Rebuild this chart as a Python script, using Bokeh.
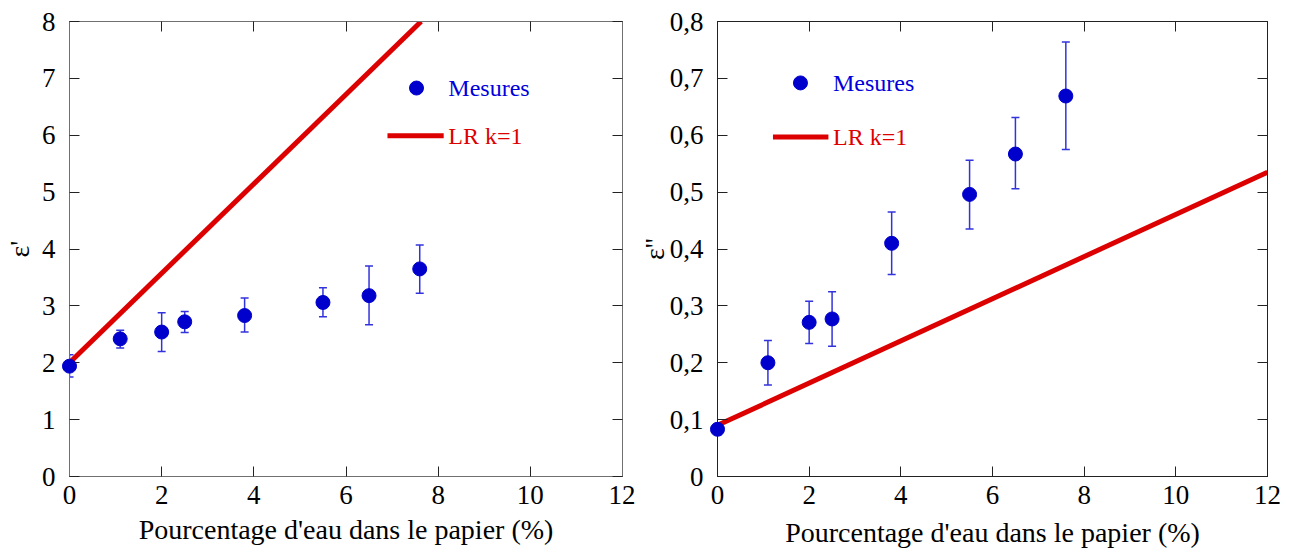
from bokeh.plotting import figure
from bokeh.layouts import row
from bokeh.models import (Range1d, FixedTicker, LinearAxis, Whisker, TeeHead,
                          ColumnDataSource)
from bokeh.core.properties import value
from bokeh.embed import file_html
from bokeh.resources import INLINE

# ---------------- data ----------------
water = [0, 1.1, 2, 2.5, 3.8, 5.5, 6.5, 7.6]

eps1 = [1.94, 2.42, 2.54, 2.72, 2.83, 3.06, 3.18, 3.65]
eps1_lo = [1.75, 2.26, 2.20, 2.53, 2.54, 2.81, 2.67, 3.22]
eps1_hi = [2.14, 2.57, 2.88, 2.90, 3.14, 3.32, 3.70, 4.07]

eps2 = [0.083, 0.20, 0.271, 0.277, 0.41, 0.496, 0.567, 0.669]
eps2_lo = [0.073, 0.161, 0.234, 0.229, 0.355, 0.435, 0.506, 0.575]
eps2_hi = [0.093, 0.239, 0.308, 0.325, 0.465, 0.556, 0.631, 0.764]

lr1_x = [0, 7.63]
lr1_y = [2.0, 8.0]
lr2_x = [0, 12]
lr2_y = [0.09, 0.535]

x_ticks = [0, 2, 4, 6, 8, 10, 12]
y1_ticks = [0, 1, 2, 3, 4, 5, 6, 7, 8]
y2_ticks = [0, 0.1, 0.2, 0.3, 0.4, 0.5, 0.6, 0.7, 0.8]
y2_tick_labels = ["0", "0,1", "0,2", "0,3", "0,4", "0,5", "0,6", "0,7", "0,8"]

x_label = "Pourcentage d'eau dans le papier (%)"
y1_label = "ε'"
y2_label = "ε''"
legend_labels = ["Mesures", "LR k=1"]

# ---------------- style ----------------
FONT = "Liberation Serif"
BLUE = "#0000cc"
BLUE_TXT = "#0000dd"
ERR = "#3333dd"
RED = "#dd0000"


def style_axes(p, xt, yt, axis_color, ylab, ylab_standoff, xlab_standoff, ylabels=None):
    p.grid.visible = False
    p.outline_line_color = axis_color
    for ax in p.xaxis + p.yaxis:
        ax.axis_line_color = axis_color
        ax.major_tick_line_color = "#222222"
        ax.major_tick_in = 10
        ax.major_tick_out = 0
        ax.minor_tick_line_color = None
        ax.major_label_text_font = FONT
        ax.major_label_text_font_size = "27px"
        ax.major_label_text_color = "black"
        ax.axis_label_text_font = FONT
        ax.axis_label_text_font_size = "28px"
        ax.axis_label_text_font_style = "normal"
        ax.axis_label_text_color = "black"
    p.xaxis.ticker = FixedTicker(ticks=xt)
    p.yaxis.ticker = FixedTicker(ticks=yt)
    p.xaxis.major_label_standoff = 9
    p.yaxis.major_label_standoff = 14
    if ylabels is not None:
        p.yaxis.major_label_overrides = {t: l for t, l in zip(yt, ylabels)}
    p.xaxis.axis_label = x_label
    p.xaxis.axis_label_standoff = xlab_standoff
    p.yaxis.axis_label = ylab
    p.yaxis.axis_label_standoff = ylab_standoff
    # mirror axes (ticks only, no labels drawn)
    for loc, tk in (("above", xt), ("right", yt)):
        ax = LinearAxis(ticker=FixedTicker(ticks=tk))
        ax.axis_line_color = axis_color
        ax.major_tick_line_color = "#222222"
        ax.major_tick_in = 10
        ax.major_tick_out = 0
        ax.minor_tick_line_color = None
        ax.major_label_text_font_size = "0px"
        ax.major_label_text_color = None
        ax.major_label_standoff = 0
        p.add_layout(ax, loc)


def make_panel(width, border_left, border_right, border_bottom, yr, yt, ylabels,
               ys, lo, hi, lrx, lry, ylab, ylab_standoff, xlab_standoff, axis_color, leg):
    p = figure(width=width, height=557, x_range=Range1d(0, 12), y_range=Range1d(*yr),
               output_backend="svg", toolbar_location=None,
               min_border_left=border_left, min_border_right=border_right,
               min_border_top=21, min_border_bottom=border_bottom)
    style_axes(p, x_ticks, yt, axis_color, ylab, ylab_standoff, xlab_standoff, ylabels)
    src = ColumnDataSource(dict(x=water, y=ys, lo=lo, hi=hi))
    p.add_layout(Whisker(base="x", upper="hi", lower="lo", source=src,
                         line_color=ERR, line_width=1.5,
                         upper_head=TeeHead(size=8, line_color=ERR, line_width=1.5),
                         lower_head=TeeHead(size=8, line_color=ERR, line_width=1.5)))
    p.line(lrx, lry, line_color=RED, line_width=5)
    r = p.scatter("x", "y", source=src, size=14, fill_color=BLUE, line_color=BLUE)
    r.level = "overlay"
    # legend
    (mx, my), (tx,), (lx0, lx1, ly) = leg
    p.scatter([mx], [my], size=14, fill_color=BLUE, line_color=BLUE)
    p.text([tx], [my], text=[legend_labels[0]], text_color=BLUE_TXT,
           text_font=value(FONT), text_font_size=value("24px"), text_baseline="middle")
    p.line([lx0, lx1], [ly, ly], line_color=RED, line_width=5)
    p.text([tx], [ly], text=[legend_labels[1]], text_color=RED,
           text_font=value(FONT), text_font_size=value("24px"), text_baseline="middle")
    return p


p1 = make_panel(635, 68, 13, 77, (0, 8), y1_ticks, None, eps1, eps1_lo, eps1_hi,
                lr1_x, lr1_y, y1_label, 4, 7, "#707070",
                ((7.53, 6.83), (8.22,), (6.90, 8.12, 5.99)))
p2 = make_panel(647, 82, 15, 81, (0, 0.8), y2_ticks, y2_tick_labels, eps2, eps2_lo, eps2_hi,
                lr2_x, lr2_y, y2_label, -3, 10, "#222222",
                ((1.81, 0.692), (2.52,), (1.21, 2.42, 0.597)))

layout = row(p1, p2)
open("out.html", "w").write(file_html(layout, INLINE))
